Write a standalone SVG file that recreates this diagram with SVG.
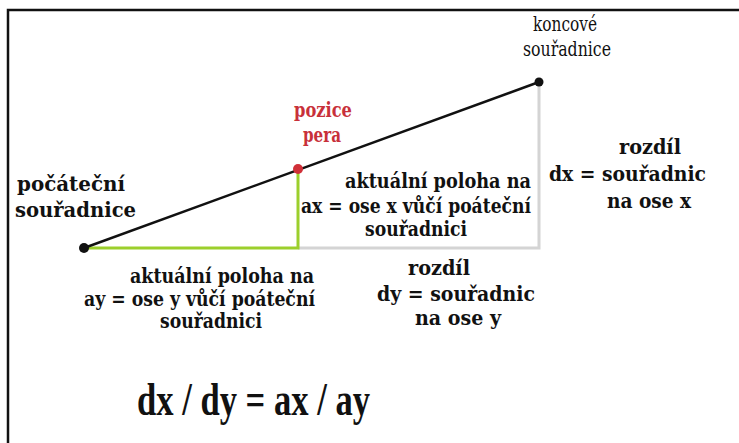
<svg xmlns="http://www.w3.org/2000/svg" width="739" height="443" viewBox="0 0 739 443">
<style>
text{font-family:"DejaVu Serif Condensed","DejaVu Serif",serif;font-weight:bold;font-size:20px;fill:#111}
.red{fill:#c8303a}
.n{font-weight:normal;font-size:20px}
.f{font-family:"Liberation Serif","DejaVu Serif",serif;font-size:46px}
</style>
<rect x="0" y="0" width="739" height="443" fill="#fff"/>
<path d="M8 443 V10 H739" fill="none" stroke="#111" stroke-width="2.5"/>
<g id="connectors">
<path d="M298 248 H539 V82" fill="none" stroke="#d4d4d4" stroke-width="3"/>
<path d="M84 248 H298 V169" fill="none" stroke="#9ccf2c" stroke-width="3"/>
<line x1="84" y1="248" x2="539" y2="82" stroke="#111" stroke-width="2.5"/>
</g>
<g id="start"><circle cx="84" cy="248" r="5" fill="#111"/>
<text x="17" y="191" textLength="108" lengthAdjust="spacingAndGlyphs">počáteční</text>
<text x="15" y="217" textLength="121" lengthAdjust="spacingAndGlyphs">souřadnice</text></g>
<g id="end"><circle cx="539" cy="82" r="4.5" fill="#111"/>
<text class="n" x="565" y="31" text-anchor="middle" textLength="64" lengthAdjust="spacingAndGlyphs">koncové</text>
<text class="n" x="567" y="56" text-anchor="middle" textLength="88" lengthAdjust="spacingAndGlyphs">souřadnice</text></g>
<g id="pen"><circle cx="298" cy="169" r="5" fill="#d03038"/>
<text class="red" x="323" y="117" text-anchor="middle" textLength="58" lengthAdjust="spacingAndGlyphs">pozice</text>
<text class="red" x="322" y="142" text-anchor="middle" textLength="38" lengthAdjust="spacingAndGlyphs">pera</text></g>
<g id="ax">
<text x="345" y="188" textLength="186" lengthAdjust="spacingAndGlyphs">aktuální poloha na</text>
<text x="301" y="213" textLength="230" lengthAdjust="spacingAndGlyphs">ax = ose x vůčí poáteční</text>
<text x="416" y="236" text-anchor="middle" textLength="102" lengthAdjust="spacingAndGlyphs">souřadnici</text></g>
<g id="dx">
<text x="650" y="154" text-anchor="middle" textLength="62" lengthAdjust="spacingAndGlyphs">rozdíl</text>
<text x="549" y="181" textLength="157" lengthAdjust="spacingAndGlyphs">dx = souřadnic</text>
<text x="649" y="208" text-anchor="middle" textLength="84" lengthAdjust="spacingAndGlyphs">na ose x</text></g>
<g id="ay">
<text x="130" y="283" textLength="184" lengthAdjust="spacingAndGlyphs">aktuální poloha na</text>
<text x="84" y="306" textLength="231" lengthAdjust="spacingAndGlyphs">ay = ose y vůčí poáteční</text>
<text x="211" y="328" text-anchor="middle" textLength="102" lengthAdjust="spacingAndGlyphs">souřadnici</text></g>
<g id="dy">
<text x="439" y="275" text-anchor="middle" textLength="62" lengthAdjust="spacingAndGlyphs">rozdíl</text>
<text x="377" y="301" textLength="158" lengthAdjust="spacingAndGlyphs">dy = souřadnic</text>
<text x="458" y="325" text-anchor="middle" textLength="86" lengthAdjust="spacingAndGlyphs">na ose y</text></g>
<g id="formula">
<text class="f" x="137" y="415" textLength="233" lengthAdjust="spacingAndGlyphs">dx / dy = ax / ay</text></g>
</svg>
